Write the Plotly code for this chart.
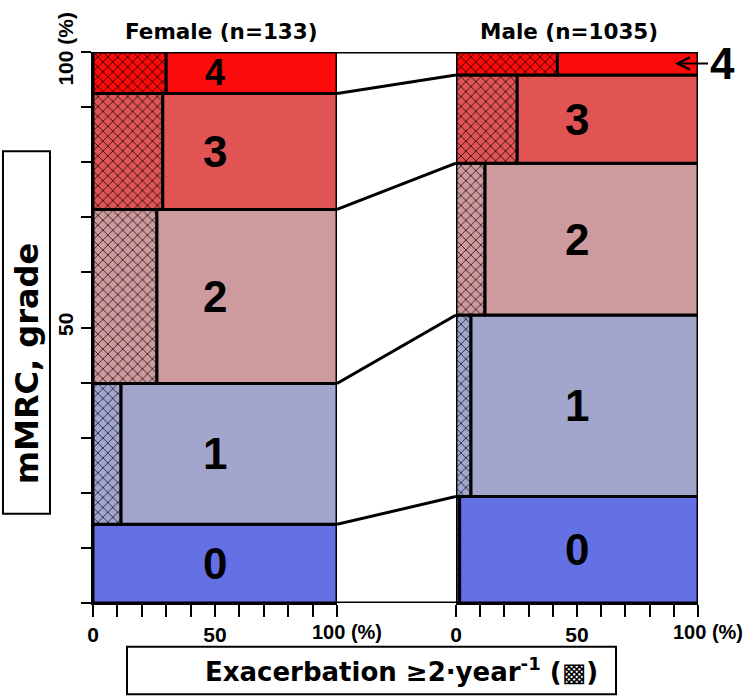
import plotly.graph_objects as go
import numpy as np

# ---- data ----
grades = ["0", "1", "2", "3", "4"]
female_counts = [19, 34, 42, 28, 10]          # n=133
male_counts = [200, 341, 285, 166, 43]        # n=1035
female_exac_pct = [0.0, 11.5, 26.2, 28.6, 30.0]   # % with exacerbation >=2/year
male_exac_pct = [1.5, 6.2, 12.0, 25.3, 41.9]
grade_colors = ["#6470E4", "#A2A6CC", "#CD9B9E", "#E05454", "#FB0B0B"]
hatch_colors = ["#1c1f4a", "#2a2c48", "#3a2526", "#3a1010", "#3a0000"]
x_tick_vals = list(range(0, 101, 10))
x_tick_text = ["0", "", "", "", "", "50", "", "", "", "", ""]
y_tick_vals = list(range(0, 101, 10))
y_tick_text = ["", "", "", "", "", "50", "", "", "", "", "100 (%)"]
panel_titles = ["Female (n=133)", "Male (n=1035)"]

BOLD = "DejaVu Sans"
NUMF = "Liberation Sans, Arial"


def shares(counts):
    c = np.array(counts, dtype=float)
    pct = c / c.sum() * 100
    top = np.cumsum(pct)
    bottom = top - pct
    return pct, bottom, top


fig = go.Figure()

panels = [("x", female_counts, female_exac_pct), ("x2", male_counts, male_exac_pct)]
cums = []
for xa, counts, exac in panels:
    pct, bottom, top = shares(counts)
    cums.append(np.concatenate([[0.0], top]))
    mids = (bottom + top) / 2
    exac = np.array(exac)
    for i in range(len(grades)):
        # hatched part (exacerbation >=2/year)
        fig.add_trace(go.Bar(
            orientation="h", y=[mids[i]], x=[exac[i]], base=[0], width=[pct[i]],
            xaxis=xa, yaxis="y",
            marker=dict(color=grade_colors[i], line=dict(color="black", width=3),
                        pattern=dict(shape="x", fgcolor=hatch_colors[i],
                                     bgcolor=grade_colors[i], fillmode="replace",
                                     size=7, solidity=0.25, fgopacity=1)),
            cliponaxis=False, hoverinfo="skip"))
        # plain part
        fig.add_trace(go.Bar(
            orientation="h", y=[mids[i]], x=[100 - exac[i]], base=[exac[i]], width=[pct[i]],
            xaxis=xa, yaxis="y",
            marker=dict(color=grade_colors[i], line=dict(color="black", width=3)),
            cliponaxis=False, hoverinfo="skip"))

# connector lines between the two panels
for yf, ym in zip(cums[0], cums[1]):
    fig.add_trace(go.Scatter(x=[0, 1], y=[yf, ym], xaxis="x3", yaxis="y",
                             mode="lines", line=dict(color="black", width=3),
                             cliponaxis=False, hoverinfo="skip"))

tickfont = dict(family=NUMF, size=21, color="black", weight="bold")
ax_common = dict(range=[0, 100], tickvals=x_tick_vals, ticktext=x_tick_text,
                 ticks="outside", ticklen=12, tickwidth=2, tickcolor="black",
                 showline=True, linewidth=2, linecolor="black", showgrid=False,
                 zeroline=False, anchor="y", tickfont=tickfont)
fig.update_layout(
    width=744, height=697,
    margin=dict(l=93, r=46, t=48, b=94),
    plot_bgcolor="white", paper_bgcolor="white",
    showlegend=False, barmode="overlay",
    xaxis=dict(domain=[0, 0.4033], **ax_common),
    xaxis2=dict(domain=[0.6, 1.0], **ax_common),
    xaxis3=dict(domain=[0.4033, 0.6], range=[0, 1], visible=False, anchor="y"),
    yaxis=dict(range=[0, 100], tickvals=y_tick_vals, ticktext=y_tick_text,
               tickangle=-90, ticks="outside", ticklen=10, tickwidth=2,
               tickcolor="black", showline=True, linewidth=2, linecolor="black",
               showgrid=False, zeroline=False, anchor="x", tickfont=tickfont),
)

ann = []
# "100 (%)" x labels
for xr in ["x", "x2"]:
    ann.append(dict(text="<b>100 (%)</b>", xref=xr, yref="paper", x=100, y=-0.052,
                    xanchor="left", yanchor="middle", xshift=-27, showarrow=False,
                    font=dict(family=NUMF, size=20, color="black")))
# panel titles
ann.append(dict(text="<b>%s</b>" % panel_titles[0], xref="x", yref="paper", x=52.5, y=1.038,
                xanchor="center", yanchor="middle",
                showarrow=False, font=dict(family=BOLD, size=21.5, color="black")))
ann.append(dict(text="<b>%s</b>" % panel_titles[1], xref="x2", yref="paper", x=46.7, y=1.038,
                xanchor="center", yanchor="middle",
                showarrow=False, font=dict(family=BOLD, size=21.5, color="black")))
# grade numbers in bars
for (xa, counts, exac), cum in zip(panels, cums):
    mids = (cum[:-1] + cum[1:]) / 2
    for i, g in enumerate(grades):
        if xa == "x2" and g == "4":
            ann.append(dict(text="<b>4</b>", xref="x2", yref="y", x=90.5, y=mids[i],
                            ax=47, ay=0, showarrow=True, arrowhead=5, arrowsize=1.2,
                            arrowwidth=2, arrowcolor="black",
                            font=dict(family=NUMF, size=44, color="black")))
            continue
        size = 36 if (xa == "x" and g == "4") else 44
        ann.append(dict(text="<b>%s</b>" % g, xref=xa, yref="y", x=50, y=mids[i],
                        xanchor="center", yanchor="middle",
                        showarrow=False, font=dict(family=NUMF, size=size, color="black")))
# axis title texts
ann.append(dict(text="<b>mMRC, grade</b>", xref="paper", yref="paper", x=-0.1099, y=0.4342,
                xanchor="center", yanchor="middle",
                textangle=-90, showarrow=False, font=dict(family=BOLD, size=32, color="black")))
ann.append(dict(text="<b>Exacerbation ≥2·year<sup>-1</sup> (▩)</b>", xref="paper", yref="paper",
                x=0.5091, y=-0.1225, xanchor="center", yanchor="middle", showarrow=False,
                font=dict(family=BOLD, size=26, color="black")))
fig.update_layout(annotations=ann)

# boxes around axis titles
fig.add_shape(type="rect", xref="paper", yref="paper", x0=-0.1488, x1=-0.0711, y0=0.1622, y1=0.8198,
              line=dict(color="black", width=2), fillcolor="white", layer="below")
fig.add_shape(type="rect", xref="paper", yref="paper", x0=0.0562, x1=0.8645, y0=-0.1658, y1=-0.0793,
              line=dict(color="black", width=2), fillcolor="white", layer="below")

fig.write_html("out.html", config={"displayModeBar": False},
               post_script="document.body.style.margin='0';")
